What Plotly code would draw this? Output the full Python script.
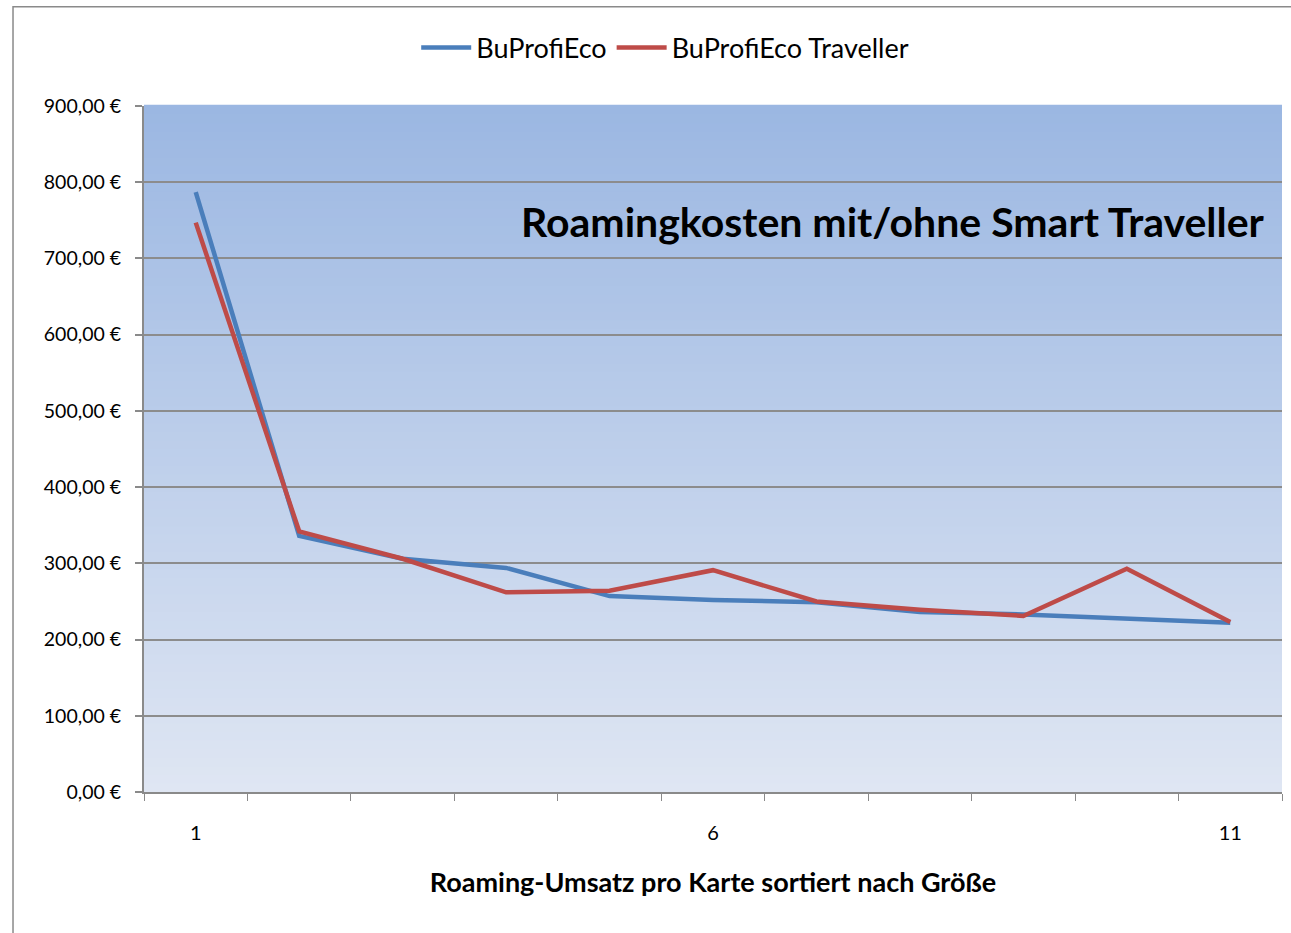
import plotly.graph_objects as go

categories = [1, 2, 3, 4, 5, 6, 7, 8, 9, 10, 11]
bu_profi_eco = [787, 336, 306, 294, 257, 252, 249, 236, 233, 228, 222]
bu_profi_eco_traveller = [747, 342, 306, 262, 264, 291, 250, 239, 231, 293, 223]
y_tick_values = [0, 100, 200, 300, 400, 500, 600, 700, 800, 900]
y_tick_labels = ["0,00 €", "100,00 €", "200,00 €", "300,00 €", "400,00 €",
                 "500,00 €", "600,00 €", "700,00 €", "800,00 €", "900,00 €"]
x_tick_values = [1, 6, 11]
x_tick_labels = ["1", "6", "11"]

FONT = "Lato, Open Sans, sans-serif"

fig = go.Figure()
fig.add_trace(go.Scatter(x=categories, y=bu_profi_eco, mode="lines", name="BuProfiEco",
                         line=dict(color="#4a7ebb", width=4.5)))
fig.add_trace(go.Scatter(x=categories, y=bu_profi_eco_traveller, mode="lines",
                         name="BuProfiEco Traveller",
                         line=dict(color="#be4b48", width=4.5)))

# gradient background stripes for plot area
shapes = []
n = 80
top = (155, 183, 226)
bot = (223, 230, 243)
for i in range(n):
    t = (i + 0.5) / n
    c = tuple(round(bot[k] + (top[k] - bot[k]) * t) for k in range(3))
    shapes.append(dict(type="rect", xref="x domain", yref="y domain",
                       x0=0, x1=1, y0=i / n, y1=(i + 1) / n + 0.002,
                       fillcolor="rgb(%d,%d,%d)" % c, line=dict(width=0), layer="below"))
# outer chart border
shapes.append(dict(type="rect", xref="paper", yref="paper",
                   x0=-0.1151, x1=1.012, y0=-0.215, y1=1.1445,
                   line=dict(color="#8a8a8a", width=1.5), fillcolor="rgba(0,0,0,0)", layer="above"))

fig.update_layout(
    width=1291, height=933,
    margin=dict(l=144, r=9, t=106, b=141, autoexpand=False),
    paper_bgcolor="white",
    plot_bgcolor="rgba(0,0,0,0)",
    font=dict(family=FONT, size=19, color="black"),
    shapes=shapes,
    showlegend=True,
    legend=dict(orientation="h", x=0.458, xanchor="center", y=1.0845, yanchor="middle",
                font=dict(size=27, family=FONT), itemwidth=50, bgcolor="rgba(0,0,0,0)"),
    annotations=[dict(text="<b>Roamingkosten mit/ohne Smart Traveller</b>",
                      xref="paper", yref="paper", x=0.987, y=0.832,
                      xanchor="right", yanchor="middle", showarrow=False,
                      font=dict(size=41, family=FONT, color="black"))],
)

fig.update_xaxes(
    range=[0.5, 11.5], tickvals=x_tick_values, ticktext=x_tick_labels,
    ticks="", ticklabelstandoff=22, showgrid=False, zeroline=False,
    showline=True, linecolor="#8a8a8a", linewidth=2,
    minor=dict(tick0=0.5, dtick=1, ticks="outside", ticklen=7, tickcolor="#8a8a8a", tickwidth=1, showgrid=False),
    tickfont=dict(size=20),
    title=dict(text="<b>Roaming-Umsatz pro Karte sortiert nach Größe</b>",
               font=dict(size=27, family=FONT), standoff=30),
)
fig.update_yaxes(
    range=[0, 900], tickvals=y_tick_values, ticktext=y_tick_labels,
    ticks="outside", ticklen=7, tickcolor="#8a8a8a", tickwidth=1.5,
    showgrid=True, gridcolor="#8c8c8c", gridwidth=2, zeroline=False,
    showline=True, linecolor="#8a8a8a", linewidth=2,
    tickfont=dict(size=19.5), ticklabelstandoff=10,
)

fig.write_html("out.html", config={"displayModeBar": False},
               post_script="document.body.style.margin='0px';document.body.style.overflow='hidden';")
